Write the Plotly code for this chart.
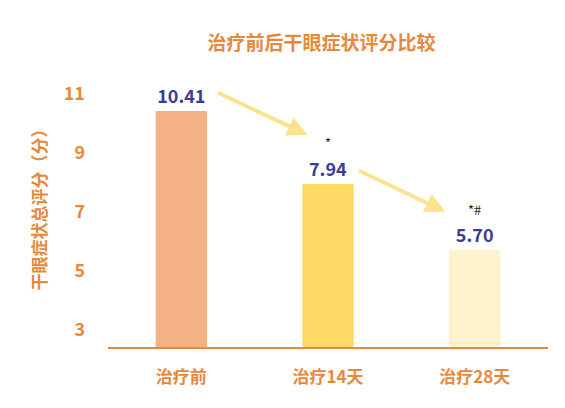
import plotly.graph_objects as go

groups = ["治疗前", "治疗14天", "治疗28天"]
scores = [10.41, 7.94, 5.70]
marks = ["", "*", "*#"]
bar_colors = ["#F4B183", "#FFD966", "#FFF2CC"]

orange = "#E8883A"
label_blue = "#3B3B98"

fig = go.Figure()
fig.add_trace(go.Bar(
    x=groups, y=scores, width=0.35,
    marker=dict(color=bar_colors, line=dict(width=0)),
    text=[f"<b>{v:.2f}</b>" for v in scores], textposition="outside",
    textfont=dict(color=label_blue, size=18, family="Noto Sans CJK SC"),
    cliponaxis=False,
))

for g, v, m in zip(groups, scores, marks):
    if m:
        fig.add_annotation(x=g, y=v, text=m, showarrow=False, yshift=41,
                           font=dict(size=13, color="#222222"))

# trend arrows
for x0, y0, x1, y1 in [(0.24, 11.05, 0.86, 9.6), (1.2, 8.42, 1.8, 7.0)]:
    fig.add_annotation(x=x1, y=y1, ax=x0, ay=y0, xref="x", yref="y", axref="x", ayref="y",
                       text="", showarrow=True, arrowhead=2, arrowsize=1,
                       arrowwidth=4, arrowcolor="#FBE38E")

fig.update_layout(
    width=565, height=408,
    margin=dict(l=100, r=25, t=56, b=69),
    plot_bgcolor="white", paper_bgcolor="white",
    font=dict(family="Noto Sans CJK SC", color=orange),
    title=dict(text="<b>治疗前后干眼症状评分比较</b>", x=0.555, xanchor="center", y=0.93,
               font=dict(size=19, color=orange)),
    showlegend=False,
    xaxis=dict(showline=True, linecolor=orange, linewidth=2,
               tickfont=dict(size=17, color=orange, family="Noto Sans CJK SC", weight="bold"),
               ticks="", ticklabelstandoff=14),
    yaxis=dict(range=[2.42, 12], tickvals=[3, 5, 7, 9, 11], showgrid=False,
               zeroline=False, showline=False,
               tickfont=dict(size=18, color=orange, weight="bold"), ticklabelstandoff=22,
               title=dict(text="<b>干眼症状总评分（分）</b>", font=dict(size=17, color=orange),
                          standoff=12)),
)

fig.write_html("out.html")
